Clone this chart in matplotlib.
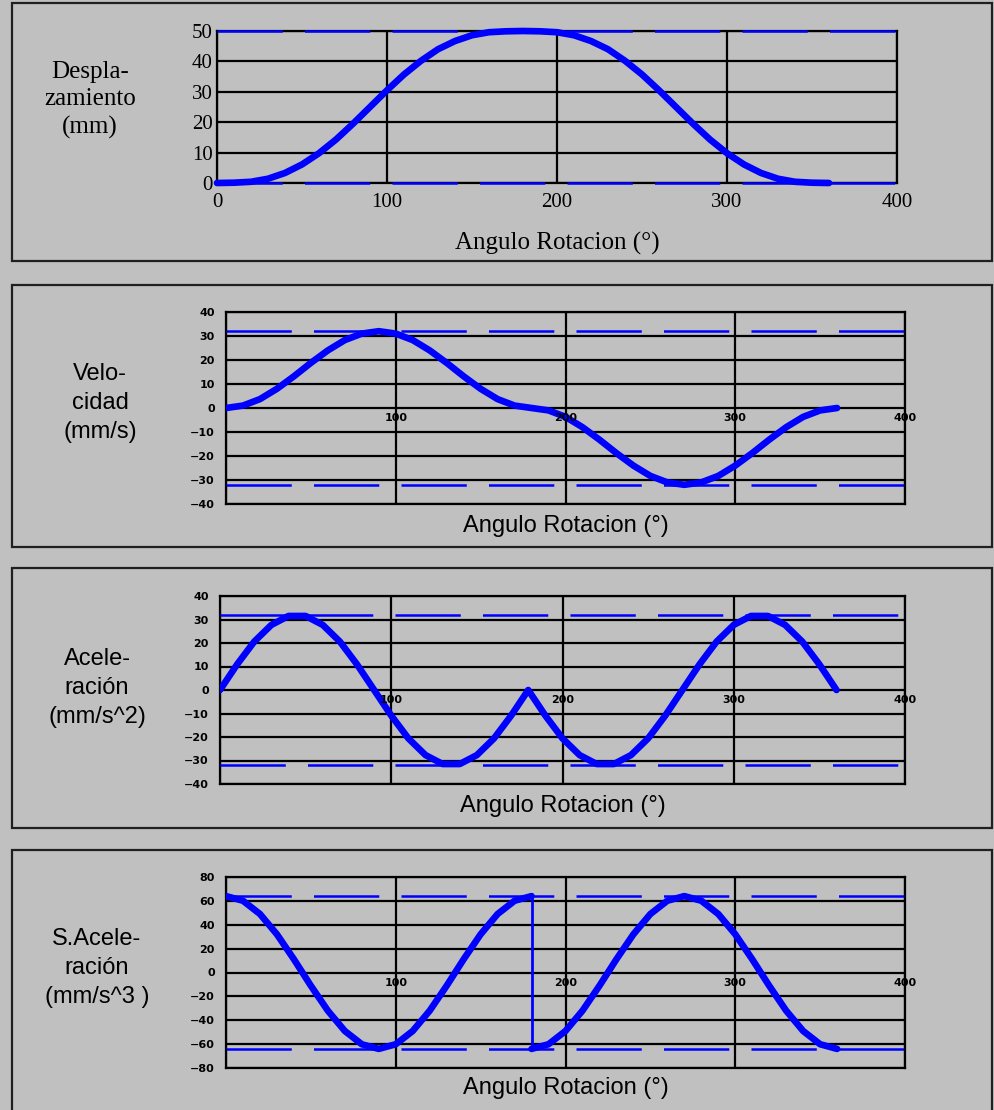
import matplotlib
matplotlib.use('Agg')
import matplotlib.pyplot as plt
from matplotlib.patches import Rectangle
import matplotlib.transforms as mtransforms

plt.rcParams['lines.scale_dashes'] = False

# ---------------- data ----------------
angulo = [0, 10, 20, 30, 40, 50, 60, 70, 80, 90, 100, 110, 120, 130, 140, 150, 160, 170, 180,
          190, 200, 210, 220, 230, 240, 250, 260, 270, 280, 290, 300, 310, 320, 330, 340, 350, 360]

desplazamiento = [0, 0.1, 0.4, 1.4, 3.3, 6.1, 9.8, 14.3, 19.5, 25.0, 30.5, 35.7, 40.2, 44.0, 46.7,
                  48.6, 49.6, 49.9, 50.0, 49.9, 49.6, 48.6, 46.7, 44.0, 40.2, 35.7, 30.5, 25.0,
                  19.5, 14.3, 9.8, 6.1, 3.3, 1.4, 0.4, 0.1, 0]

velocidad = [0, 1.0, 3.7, 8.0, 13.2, 18.8, 24.0, 28.3, 31.0, 32.0, 31.0, 28.3, 24.0, 18.8, 13.2,
             8.0, 3.7, 1.0, 0, -1.0, -3.7, -8.0, -13.2, -18.8, -24.0, -28.3, -31.0, -32.0, -31.0,
             -28.3, -24.0, -18.8, -13.2, -8.0, -3.7, -1.0, 0]

aceleracion = [0, 10.9, 20.6, 27.7, 31.5, 31.5, 27.7, 20.6, 10.9, 0, -10.9, -20.6, -27.7, -31.5,
               -31.5, -27.7, -20.6, -10.9, 0, -10.9, -20.6, -27.7, -31.5, -31.5, -27.7, -20.6,
               -10.9, 0, 10.9, 20.6, 27.7, 31.5, 31.5, 27.7, 20.6, 10.9, 0]

angulo_subida = [0, 10, 20, 30, 40, 50, 60, 70, 80, 90, 100, 110, 120, 130, 140, 150, 160, 170, 180]
angulo_bajada = [180, 190, 200, 210, 220, 230, 240, 250, 260, 270, 280, 290, 300, 310, 320, 330,
                 340, 350, 360]
sobreacel_subida = [64, 60.1, 49.0, 32.0, 11.1, -11.1, -32.0, -49.0, -60.1, -64, -60.1, -49.0,
                    -32.0, -11.1, 11.1, 32.0, 49.0, 60.1, 64]
sobreacel_bajada = [-64, -60.1, -49.0, -32.0, -11.1, 11.1, 32.0, 49.0, 60.1, 64, 60.1, 49.0,
                    32.0, 11.1, -11.1, -32.0, -49.0, -60.1, -64]

x_ticks = [0, 100, 200, 300, 400]
limites = {'desp': [0, 50], 'vel': [-32, 32], 'acel': [-32, 32], 'sacel': [-64, 64]}

titulos = ['Despla-\nzamiento\n(mm)', 'Velo-\ncidad\n(mm/s)', 'Acele-\nración\n(mm/s^2)',
           'S.Acele-\nración\n(mm/s^3 )']
xlabel = 'Angulo Rotacion (°)'

# ---------------- layout ----------------
W, H = 994, 1110
BG = '#c0c0c0'
BLUE = '#0000ff'
fig = plt.figure(figsize=(W / 100, H / 100), dpi=100, facecolor=BG)


def fx(px):
    return px / W


def fy(py):
    return 1 - py / H


def add_axes(l, r, t, b):
    ax = fig.add_axes([fx(l), fy(b), fx(r - l), (b - t) / H])
    ax.set_facecolor(BG)
    for s in ax.spines.values():
        s.set_color('black')
        s.set_linewidth(1.6)
    ax.tick_params(length=0)
    return ax


def box(t, b):
    r = Rectangle((fx(12), fy(b)), fx(992 - 12), (b - t) / H, transform=fig.transFigure,
                  fill=False, edgecolor='#202020', lw=1.6)
    fig.add_artist(r)


boxes = [(3, 261), (285, 547), (568, 828), (850, 1113)]
for t, b in boxes:
    box(t, b)

axes_pos = [(217, 897, 31, 183), (226, 905, 312, 504), (220, 905, 596, 784), (226, 905, 877, 1068)]
ylims = [(0, 50), (-40, 40), (-40, 40), (-80, 80)]
ystep = [10, 10, 10, 20]
title_pos = [(90, 100), (100, 403), (97, 688), (97, 968)]
xlabel_y = [243, 526, 806, 1088]
lim_keys = ['desp', 'vel', 'acel', 'sacel']

for i in range(4):
    l, r, t, b = axes_pos[i]
    ax = add_axes(l, r, t, b)
    y0, y1 = ylims[i]
    ax.set_xlim(0, 400)
    ax.set_ylim(y0, y1)
    yt = list(range(y0, y1 + 1, ystep[i]))
    ax.set_yticks(yt)
    ax.set_xticks(x_ticks)
    ax.grid(True, color='black', lw=1.6)
    ax.set_axisbelow(True)

    # dashed limit lines
    for lv in limites[lim_keys[i]]:
        ax.axhline(lv, color=BLUE, lw=1.8, dashes=(47, 16), dash_capstyle='butt', zorder=3,
                   clip_on=False)

    if i == 0:
        ax.plot(angulo, desplazamiento, color=BLUE, lw=4.8, zorder=4, clip_on=False,
                solid_capstyle='round', solid_joinstyle='round')
        ax.tick_params(axis='x', labelsize=15, pad=7)
        ax.tick_params(axis='y', labelsize=15, pad=3)
        for lab in ax.get_xticklabels() + ax.get_yticklabels():
            lab.set_fontfamily('Liberation Serif')
        fs_title = 18
        fs_xlabel = 18
        fam = 'Liberation Serif'
        lsp = 1.3
    else:
        if i == 1:
            ax.plot(angulo, velocidad, color=BLUE, lw=4.8, zorder=4,
                    solid_capstyle='round', solid_joinstyle='round')
        elif i == 2:
            ax.plot(angulo, aceleracion, color=BLUE, lw=4.8, zorder=4,
                    solid_capstyle='round', solid_joinstyle='round')
        else:
            ax.plot(angulo_subida, sobreacel_subida, color=BLUE, lw=4.8, zorder=4,
                    solid_capstyle='round', solid_joinstyle='round')
            ax.plot(angulo_bajada, sobreacel_bajada, color=BLUE, lw=4.8, zorder=4,
                    solid_capstyle='round', solid_joinstyle='round')
            ax.plot([angulo_subida[-1], angulo_bajada[0]],
                    [sobreacel_subida[-1], sobreacel_bajada[0]], color=BLUE, lw=2, zorder=4)
        ax.set_xticklabels([])
        ax.tick_params(axis='y', labelsize=8, pad=8)
        for lab in ax.get_yticklabels():
            lab.set_fontweight('bold')
        trans = mtransforms.offset_copy(ax.transData, fig=fig, x=0, y=-5, units='dots')
        for xv in x_ticks[1:]:
            ax.text(xv, 0, str(xv), transform=trans, ha='center', va='top', fontsize=8,
                    fontweight='bold', zorder=5)
        fs_title = 17
        fs_xlabel = 17
        fam = 'Liberation Sans'
        lsp = 1.4

    # left title
    tx, ty = title_pos[i]
    fig.text(fx(tx), fy(ty), titulos[i], ha='center', va='center', fontsize=fs_title,
             family=fam, linespacing=lsp)
    # x label
    fig.text(fx((l + r) / 2), fy(xlabel_y[i]), xlabel, ha='center', va='center',
             fontsize=fs_xlabel, family=fam)

fig.savefig('out.png', dpi=100, facecolor=BG)
